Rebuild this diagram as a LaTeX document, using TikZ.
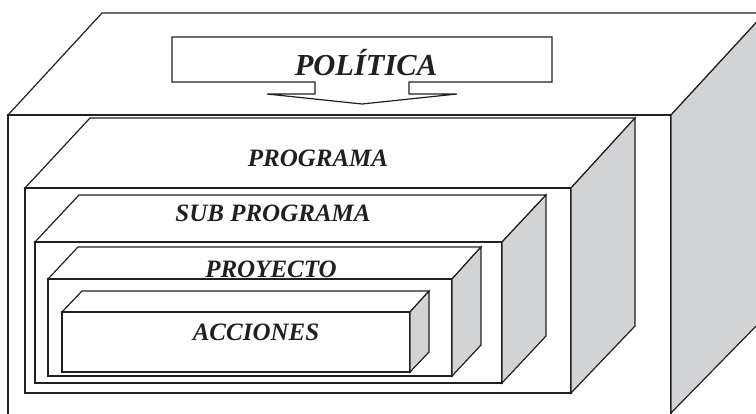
\documentclass[tikz,border=0pt]{standalone}
\usepackage{fontspec}
\setmainfont{Liberation Serif}[BoldItalicFont={Liberation Serif Bold Italic}]
\definecolor{edge}{RGB}{35,31,32}
\definecolor{side}{RGB}{210,211,213}
\tikzset{
  face/.style={draw=edge, line width=1.2pt, fill=white, line join=miter},
  sideface/.style={draw=edge, line width=1.2pt, fill=side, line join=miter},
  lbl/.style={font=\bfseries\itshape\fontsize{25}{25}\selectfont, text=edge, anchor=base, inner sep=0pt},
  biglbl/.style={font=\bfseries\itshape\fontsize{30.5}{30.5}\selectfont, text=edge, anchor=base, inner sep=0pt}
}
\begin{document}
\begin{tikzpicture}[x=1pt, y=-1pt]
\useasboundingbox (0,0) rectangle (756,413);
\begin{scope}
\clip (0,0) rectangle (756,413);
% outer box
\draw[face] (8,115) -- (102,13) -- (765,13) -- (671,115) -- cycle;
\draw[face] (8,115) -- (671,115) -- (671,430) -- (8,430) -- cycle;
\draw[sideface] (671,115) -- (765,13) -- (765,317) -- (671,413) -- cycle;
% politica callout
\draw[face] (172,37) -- (552,37) -- (552,82) -- (409,82) -- (409,94) -- (457,94) -- (362,104) -- (267,94) -- (315,94) -- (315,82) -- (172,82) -- cycle;
% programa
\draw[face] (25,188) -- (90,118) -- (635,118) -- (571,188) -- cycle;
\draw[face] (25,188) rectangle (571,393);
\draw[sideface] (571,188) -- (635,118) -- (635,326) -- (571,393) -- cycle;
% sub programa
\draw[face] (35,242) -- (79,195) -- (546,195) -- (502,242) -- cycle;
\draw[face] (35,242) rectangle (502,383);
\draw[sideface] (502,242) -- (546,195) -- (546,336) -- (502,383) -- cycle;
% proyecto
\draw[face] (48,279) -- (78,247) -- (481,247) -- (452,279) -- cycle;
\draw[face] (48,279) rectangle (452,376);
\draw[sideface] (452,279) -- (481,247) -- (481,345) -- (452,376) -- cycle;
% acciones
\draw[face] (62,312) -- (82,291) -- (429,291) -- (410,312) -- cycle;
\draw[face] (62,312) rectangle (410,372);
\draw[sideface] (410,312) -- (429,291) -- (429,352) -- (410,372) -- cycle;
\end{scope}
\node[biglbl] (politica) at (366,75) {POLÍTICA};
\node[lbl] (programa) at (318,166) {PROGRAMA};
\node[lbl] (subprograma) at (273,221) {SUB PROGRAMA};
\node[lbl] (proyecto) at (271,277) {PROYECTO};
\node[lbl] (acciones) at (256,340) {ACCIONES};
\end{tikzpicture}
\end{document}
